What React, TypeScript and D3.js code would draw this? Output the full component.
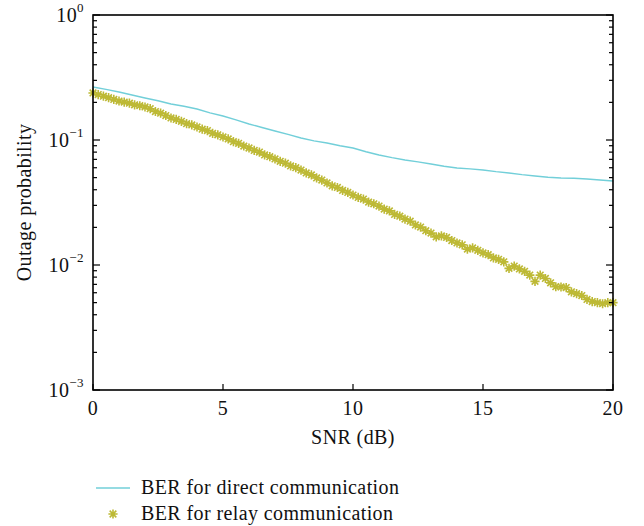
import React from "react";
import * as d3 from "d3";

// relay curve, 0.2 dB steps
const relaySnr = d3.range(0, 101).map((i) => +(i * 0.2).toFixed(1));
const relayBer = [
  0.2377, 0.231, 0.224, 0.218, 0.211,
  0.2051, 0.201, 0.197, 0.191, 0.188,
  0.1837, 0.178, 0.169, 0.164, 0.157,
  0.150, 0.146, 0.141, 0.135, 0.132,
  0.1271, 0.122, 0.119, 0.113, 0.110,
  0.1057, 0.102, 0.0970, 0.0940, 0.0895,
  0.0863, 0.0825, 0.0800, 0.0760, 0.0736,
  0.0705, 0.0675, 0.0652, 0.0620, 0.0601,
  0.0575, 0.0545, 0.0526, 0.0497, 0.0478,
  0.0453, 0.0430, 0.0417, 0.0395, 0.0381,
  0.0363, 0.0347, 0.0337, 0.0319, 0.0309,
  0.0296, 0.0280, 0.0271, 0.0254, 0.0246,
  0.0233, 0.0224, 0.0209, 0.0201, 0.0188,
  0.0180, 0.0168, 0.0171, 0.0166, 0.0157,
  0.0150, 0.0145, 0.0134, 0.0137, 0.0131,
  0.0125, 0.0121, 0.0114, 0.0111, 0.0106,
  0.0094, 0.0098, 0.0093, 0.0089, 0.0083,
  0.0074, 0.0083, 0.0078, 0.0072, 0.0067,
  0.00667, 0.0066, 0.0061, 0.0059, 0.0057,
  0.0053, 0.0051, 0.0050, 0.0049, 0.0050,
  0.0050,
];

// direct curve, 0.5 dB steps
const directSnr = d3.range(0, 41).map((i) => i * 0.5);
const directBer = [
  0.2655, 0.254, 0.2421, 0.229, 0.2168, 0.206, 0.1941, 0.186, 0.177, 0.165,
  0.1556, 0.145, 0.1343, 0.126, 0.118, 0.111, 0.1038, 0.0985, 0.0946, 0.09,
  0.0863, 0.0805, 0.0759, 0.0722, 0.0692, 0.0668, 0.0643, 0.0616, 0.0597, 0.0588,
  0.0575, 0.0558, 0.0545, 0.0528, 0.0515, 0.0503, 0.0497, 0.0494, 0.0488, 0.0478,
  0.047,
];

const xTicks = [0, 5, 10, 15, 20];
const yExponents = [0, -1, -2, -3];
const legendLabels = ["BER for direct communication", "BER for relay communication"];

const CYAN = "#72cfd9";
const OLIVE = "#bdb935";
const FONT = "'Liberation Serif', 'Times New Roman', serif";

const Star = ({ x, y, r = 4.6 }: { x: number; y: number; r?: number }) => {
  const d = r * 0.72;
  return (
    <path
      d={`M${x - r},${y}H${x + r}M${x},${y - r}V${y + r}M${x - d},${y - d}L${x + d},${y + d}M${x - d},${y + d}L${x + d},${y - d}`}
      stroke={OLIVE}
      strokeWidth={1.6}
      fill="none"
    />
  );
};

export default function App() {
  const width = 644;
  const height = 526;
  const left = 93, right = 613, top = 15, bottom = 390;

  const x = d3.scaleLinear().domain([0, 20]).range([left, right]);
  const y = d3.scaleLog().domain([1e-3, 1]).range([bottom, top]);

  const line = d3
    .line<number>()
    .x((_, i) => x(directSnr[i]))
    .y((d) => y(d));

  const yTicks = y.ticks();
  const textStyle = { fontFamily: FONT, letterSpacing: "0.4px" };

  return (
    <svg
      width={width}
      height={height}
      style={{ position: "absolute", left: 0, top: 0, background: "#fff", fontFamily: FONT }}
    >
      {/* data */}
      <path d={line(directBer) || ""} fill="none" stroke={CYAN} strokeWidth={1.4} />
      {relayBer.map((v, i) => (
        <Star key={i} x={x(relaySnr[i])} y={y(v)} />
      ))}

      {/* frame */}
      <rect x={left} y={top} width={right - left} height={bottom - top} fill="none" stroke="#000" strokeWidth={1.6} />

      {/* y ticks left and right */}
      {yTicks.map((t, i) => {
        const major = Math.abs(Math.log10(t) - Math.round(Math.log10(t))) < 1e-9;
        const len = major ? 7 : 4;
        const yy = y(t);
        return (
          <g key={i} stroke="#000" strokeWidth={1.2}>
            <line x1={left} x2={left + len} y1={yy} y2={yy} />
            <line x1={right} x2={right - len} y1={yy} y2={yy} />
          </g>
        );
      })}

      {/* x ticks */}
      {xTicks.map((t) => (
        <g key={t}>
          <line x1={x(t)} x2={x(t)} y1={bottom} y2={bottom - 6} stroke="#000" strokeWidth={1.2} />
          <text x={x(t)} y={bottom + 25} fontSize={20} textAnchor="middle" fill="#111" style={textStyle}>
            {t}
          </text>
        </g>
      ))}

      {/* y tick labels */}
      {yExponents.map((e) => (
        <text key={e} x={left - 9} y={y(Math.pow(10, e)) + 7} fontSize={20} textAnchor="end" fill="#111" style={textStyle}>
          10
          <tspan fontSize={13} dy={-10}>
            {e === 0 ? "0" : "\u2212" + Math.abs(e)}
          </tspan>
        </text>
      ))}

      {/* axis titles */}
      <text x={(left + right) / 2} y={444} fontSize={20} textAnchor="middle" fill="#111" style={textStyle}>
        SNR (dB)
      </text>
      <text
        transform={`translate(31,${(top + bottom) / 2}) rotate(-90)`}
        fontSize={20}
        textAnchor="middle"
        fill="#111"
        style={textStyle}
      >
        Outage probability
      </text>

      {/* legend */}
      <line x1={96} x2={130} y1={488} y2={488} stroke={CYAN} strokeWidth={1.4} />
      <text x={141} y={494} fontSize={20} fill="#111" style={textStyle}>
        {legendLabels[0]}
      </text>
      <Star x={113} y={514} />
      <text x={141} y={520} fontSize={20} fill="#111" style={textStyle}>
        {legendLabels[1]}
      </text>
    </svg>
  );
}
